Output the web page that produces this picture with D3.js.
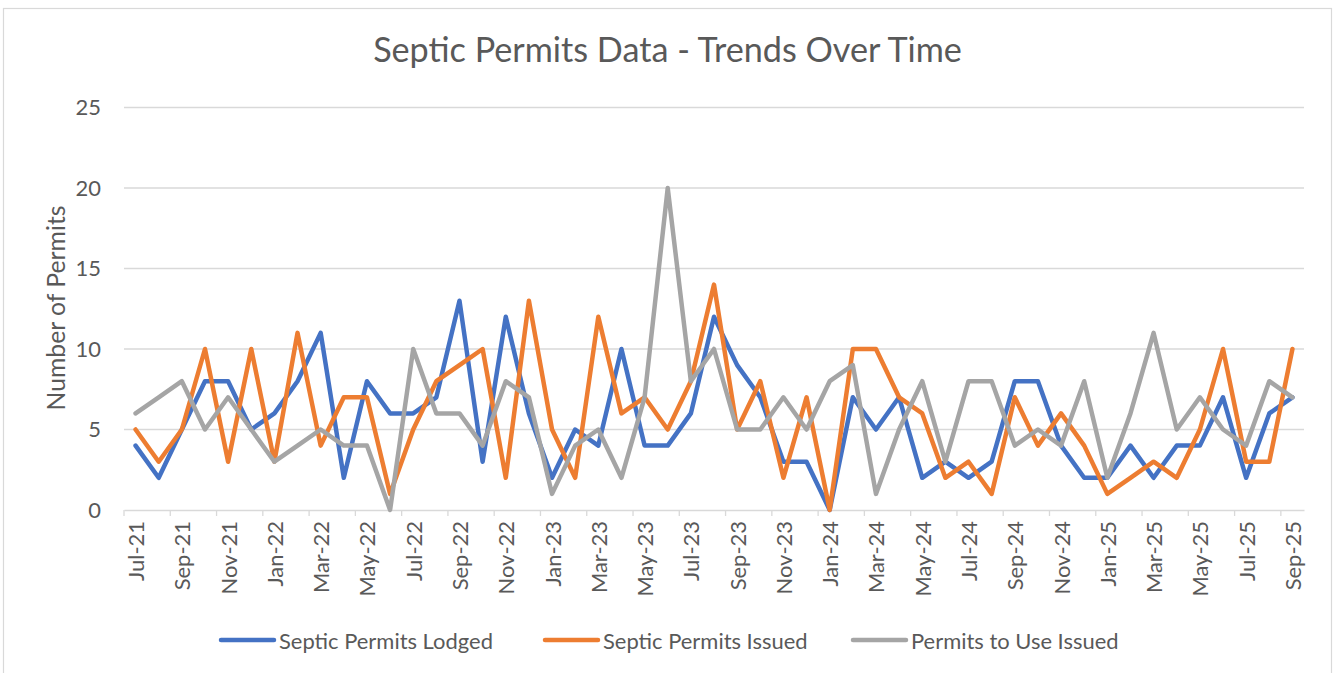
<!DOCTYPE html>
<html>
<head>
<meta charset="utf-8">
<script src="https://cdn.jsdelivr.net/npm/d3@7"></script>
<style>
  html, body { margin: 0; padding: 0; background: #fff; }
  svg { display: block; }
  text { font-family: Lato, "Open Sans", "Noto Sans", sans-serif; fill: #595959; }
</style>
</head>
<body>
<svg id="chart" width="1334" height="673"></svg>
<script>
// ---- Data ----
const months = ["Jul-21","Aug-21","Sep-21","Oct-21","Nov-21","Dec-21","Jan-22","Feb-22","Mar-22","Apr-22","May-22","Jun-22",
  "Jul-22","Aug-22","Sep-22","Oct-22","Nov-22","Dec-22","Jan-23","Feb-23","Mar-23","Apr-23","May-23","Jun-23",
  "Jul-23","Aug-23","Sep-23","Oct-23","Nov-23","Dec-23","Jan-24","Feb-24","Mar-24","Apr-24","May-24","Jun-24",
  "Jul-24","Aug-24","Sep-24","Oct-24","Nov-24","Dec-24","Jan-25","Feb-25","Mar-25","Apr-25","May-25","Jun-25",
  "Jul-25","Aug-25","Sep-25"];
const lodged = [4,2,5,8,8,5,6,8,11,2,8,6,6,7,13,3,12,6,2,5,4,10,4,4,6,12,9,7,3,3,0,7,5,7,2,3,2,3,8,8,4,2,2,4,2,4,4,7,2,6,7];
const issued = [5,3,5,10,3,10,3,11,4,7,7,1,5,8,9,10,2,13,5,2,12,6,7,5,8,14,5,8,2,7,0,10,10,7,6,2,3,1,7,4,6,4,1,2,3,2,5,10,3,3,10];
const toUse  = [6,7,8,5,7,5,3,4,5,4,4,0,10,6,6,4,8,7,1,4,5,2,7,20,8,10,5,5,7,5,8,9,1,5,8,3,8,8,4,5,4,8,2,6,11,5,7,5,4,8,7];
const seriesNames = ["Septic Permits Lodged","Septic Permits Issued","Permits to Use Issued"];
const seriesColors = ["#4472C4","#ED7D31","#A5A5A5"];
const yTicks = [0,5,10,15,20,25];
const chartTitle = "Septic Permits Data - Trends Over Time";
const yTitle = "Number of Permits";

(function () {
  const svg = d3.select("#chart");
  const pLeft = 124, pRight = 1304, pTop = 107.5, pBottom = 510;

  svg.append("rect").attr("x", 3.5).attr("y", 8.5).attr("width", 1328).attr("height", 700)
    .attr("fill", "#fff").attr("stroke", "#D9D9D9").attr("stroke-width", 1.2);

  const x = d3.scaleBand().domain(months).range([pLeft, pRight]).padding(0);
  const y = d3.scaleLinear().domain([0, 25]).range([pBottom, pTop]);

  function fitSize(str, target) {
    const t = svg.append("text").attr("font-size", 100).text(str);
    const w = t.node().getComputedTextLength();
    t.remove();
    return 100 * target / w;
  }
  const baseSize = fitSize("Septic Permits Lodged", 214);
  const titleSize = fitSize(chartTitle, 589);

  // gridlines
  svg.append("g").selectAll("line").data(yTicks.filter(d => d > 0)).join("line")
    .attr("x1", pLeft).attr("x2", pRight)
    .attr("y1", d => y(d)).attr("y2", d => y(d))
    .attr("stroke", "#D9D9D9").attr("stroke-width", 1.3);

  // x axis
  const xAxis = d3.axisBottom(x)
    .tickValues(months.filter((m, i) => i % 2 === 0))
    .tickSize(0);
  const gx = svg.append("g").attr("transform", `translate(0,${pBottom})`).call(xAxis);
  gx.select(".domain").attr("stroke", "#D9D9D9").attr("stroke-width", 1.3);
  gx.selectAll("text")
    .attr("font-size", baseSize)
    .attr("font-family", null)
    .attr("fill", "#595959")
    .attr("text-anchor", "end")
    .attr("dominant-baseline", "central")
    .attr("dy", null)
    .attr("y", 0)
    .attr("transform", "translate(0,11) rotate(-90)");
  gx.attr("font-family", null);

  const bw = x.bandwidth();
  const boundaries = d3.range(0, months.length, 2);
  svg.append("g").selectAll("line").data(boundaries).join("line")
    .attr("x1", i => pLeft + i * bw).attr("x2", i => pLeft + i * bw)
    .attr("y1", pBottom).attr("y2", pBottom + 6)
    .attr("stroke", "#D9D9D9").attr("stroke-width", 1.3);

  // y axis labels
  const yAxis = d3.axisLeft(y).tickValues(yTicks).tickSize(0).tickPadding(0);
  const gy = svg.append("g").attr("transform", `translate(101,0)`).call(yAxis);
  gy.attr("font-family", null);
  gy.select(".domain").remove();
  gy.selectAll("text").attr("font-size", baseSize).attr("fill", "#595959");

  // y title
  svg.append("text")
    .attr("transform", `translate(55,308) rotate(-90)`)
    .attr("text-anchor", "middle").attr("dominant-baseline", "central")
    .attr("font-size", fitSize(yTitle, 205))
    .text(yTitle);

  // title
  svg.append("text").attr("x", 667.5).attr("y", 62)
    .attr("text-anchor", "middle").attr("font-size", titleSize)
    .text(chartTitle);

  // lines
  const data = [lodged, issued, toUse];
  const line = d3.line().x((d, i) => x(months[i]) + bw / 2).y(d => y(d));
  svg.append("g").selectAll("path").data(data).join("path")
    .attr("d", d => line(d))
    .attr("fill", "none")
    .attr("stroke", (d, i) => seriesColors[i])
    .attr("stroke-width", 4.5)
    .attr("stroke-linejoin", "round")
    .attr("stroke-linecap", "round");

  // legend
  const legendX = [221, 545, 853];
  const lg = svg.append("g").selectAll("g").data(seriesNames).join("g")
    .attr("transform", (d, i) => `translate(${legendX[i]},640)`);
  lg.append("line").attr("x1", 0).attr("x2", 53).attr("y1", 0).attr("y2", 0)
    .attr("stroke", (d, i) => seriesColors[i]).attr("stroke-width", 4.5).attr("stroke-linecap", "round");
  lg.append("text").attr("x", 58).attr("y", 0).attr("dominant-baseline", "central")
    .attr("font-size", baseSize).text(d => d);
})();
</script>
</body>
</html>
